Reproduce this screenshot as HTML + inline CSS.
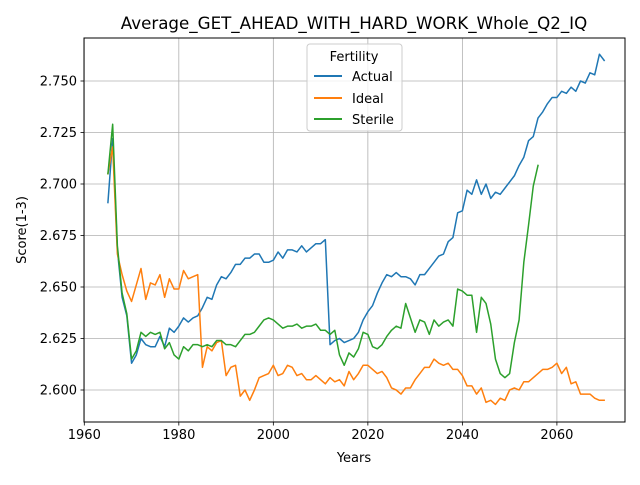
<!DOCTYPE html>
<html><head><meta charset="utf-8"><style>
body{margin:0;background:#fff;}
svg text{font-family:"DejaVu Sans","Liberation Sans",sans-serif;fill:#000;}
</style></head><body>
<svg id="chart" width="640" height="480" viewBox="0 0 640 480" xmlns="http://www.w3.org/2000/svg">
<rect width="640" height="480" fill="#fff"/>
<g id="grid"></g>
<g id="series"></g>
<rect x="84" y="38" width="541" height="384" fill="none" stroke="#000" stroke-width="1"/>
<g id="ticks"></g>
<text x="354" y="29" font-size="16.7" text-anchor="middle">Average_GET_AHEAD_WITH_HARD_WORK_Whole_Q2_IQ</text>
<text x="354" y="462" font-size="13" text-anchor="middle">Years</text>
<text x="26" y="230" font-size="13" text-anchor="middle" transform="rotate(-90 26 230)">Score(1-3)</text>
<g>
<rect x="307" y="44" width="95" height="87" rx="3" fill="#fff" fill-opacity="0.8" stroke="#ccc"/>
<text x="354" y="61" font-size="13" text-anchor="middle">Fertility</text>
<line x1="314" y1="76" x2="342" y2="76" stroke="#1f77b4" stroke-width="2"/>
<text x="352" y="81" font-size="13">Actual</text>
<line x1="314" y1="98" x2="342" y2="98" stroke="#ff7f0e" stroke-width="2"/>
<text x="352" y="103" font-size="13">Ideal</text>
<line x1="314" y1="119" x2="342" y2="119" stroke="#2ca02c" stroke-width="2"/>
<text x="352" y="124" font-size="13">Sterile</text>
</g>
</svg>
<script>
const startYear = 1965;
const actual = [2.691,2.722,2.668,2.645,2.636,2.613,2.617,2.625,2.622,2.621,2.621,2.626,2.621,2.630,2.628,2.631,2.635,2.633,2.635,2.636,2.640,2.645,2.644,2.651,2.655,2.654,2.657,2.661,2.661,2.664,2.664,2.666,2.666,2.662,2.662,2.663,2.667,2.664,2.668,2.668,2.667,2.670,2.667,2.669,2.671,2.671,2.673,2.622,2.624,2.625,2.623,2.624,2.625,2.628,2.634,2.638,2.641,2.647,2.652,2.656,2.655,2.657,2.655,2.655,2.654,2.651,2.656,2.656,2.659,2.662,2.665,2.666,2.672,2.674,2.686,2.687,2.697,2.695,2.702,2.695,2.700,2.693,2.696,2.695,2.698,2.701,2.704,2.709,2.713,2.721,2.723,2.732,2.735,2.739,2.742,2.742,2.745,2.744,2.747,2.745,2.750,2.749,2.754,2.753,2.763,2.760];
const ideal = [2.705,2.718,2.666,2.656,2.648,2.643,2.651,2.659,2.644,2.652,2.651,2.656,2.645,2.654,2.649,2.649,2.658,2.654,2.655,2.656,2.611,2.621,2.619,2.623,2.624,2.607,2.611,2.612,2.597,2.600,2.595,2.600,2.606,2.607,2.608,2.612,2.607,2.608,2.612,2.611,2.607,2.608,2.605,2.605,2.607,2.605,2.603,2.606,2.604,2.605,2.602,2.609,2.605,2.608,2.612,2.612,2.610,2.608,2.609,2.606,2.601,2.600,2.598,2.601,2.601,2.605,2.608,2.611,2.611,2.615,2.613,2.612,2.613,2.610,2.610,2.607,2.602,2.602,2.598,2.601,2.594,2.595,2.593,2.596,2.595,2.600,2.601,2.600,2.604,2.604,2.606,2.608,2.610,2.610,2.611,2.613,2.608,2.611,2.603,2.604,2.598,2.598,2.598,2.596,2.595,2.595];
const sterile = [2.705,2.729,2.670,2.647,2.637,2.615,2.619,2.628,2.626,2.628,2.627,2.628,2.620,2.623,2.617,2.615,2.621,2.619,2.622,2.622,2.621,2.622,2.621,2.624,2.624,2.622,2.622,2.621,2.624,2.627,2.627,2.628,2.631,2.634,2.635,2.634,2.632,2.630,2.631,2.631,2.632,2.630,2.631,2.631,2.632,2.629,2.629,2.627,2.629,2.617,2.612,2.618,2.616,2.620,2.628,2.627,2.621,2.620,2.622,2.626,2.629,2.631,2.630,2.642,2.635,2.628,2.634,2.633,2.627,2.634,2.631,2.633,2.634,2.631,2.649,2.648,2.646,2.646,2.628,2.645,2.642,2.632,2.615,2.608,2.606,2.608,2.623,2.634,2.662,2.680,2.699,2.709];
const xTicks = [1960,1980,2000,2020,2040,2060];
const yTicks = [2.600,2.625,2.650,2.675,2.700,2.725,2.750];
const yTickLabels = ["2.600","2.625","2.650","2.675","2.700","2.725","2.750"];

const NS = "http://www.w3.org/2000/svg";
function xs(yr){ return 84.3 + (yr - 1960) * 4.726; }
function ys(v){ return 390 - (v - 2.600) * 2060; }
const grid = document.getElementById('grid');
const ticks = document.getElementById('ticks');
function mk(tag, attrs, parent){
  const e = document.createElementNS(NS, tag);
  for (const k in attrs) e.setAttribute(k, attrs[k]);
  parent.appendChild(e); return e;
}
xTicks.forEach(t => {
  const x = xs(t);
  const g = mk('line', {x1:x, x2:x, y1:38, y2:422, stroke:'#b0b0b0', 'stroke-width':0.8}, grid);
  
  
  mk('line', {x1:x, x2:x, y1:422, y2:425.5, stroke:'#000', 'stroke-width':0.8}, ticks);
  const tx = mk('text', {x:x, y:439, 'font-size':13, 'text-anchor':'middle'}, ticks);
  
  
  tx.textContent = t;
});
yTicks.forEach((t, i) => {
  const y = ys(t);
  const g = mk('line', {x1:84, x2:625, y1:y, y2:y, stroke:'#b0b0b0', 'stroke-width':0.8}, grid);
  
  
  mk('line', {x1:80.5, x2:84, y1:y, y2:y, stroke:'#000', 'stroke-width':0.8}, ticks);
  const tx = mk('text', {x:77, y:y+4.5, 'font-size':13, 'text-anchor':'end'}, ticks);
  
  
  tx.textContent = yTickLabels[i];
});
const series = document.getElementById('series');
function drawLine(arr, color, name){
  const pts = arr.map((v, i) => xs(startYear + i).toFixed(2) + ',' + ys(v).toFixed(2)).join(' ');
  const p = mk('polyline', {points:pts, fill:'none', stroke:color, 'stroke-width':1.5, 'stroke-linejoin':'round', 'stroke-linecap':'square'}, series);
  
  
}
drawLine(actual, '#1f77b4', 'actual-line');
drawLine(ideal, '#ff7f0e', 'ideal-line');
drawLine(sterile, '#2ca02c', 'sterile-line');
</script>
</body></html>
